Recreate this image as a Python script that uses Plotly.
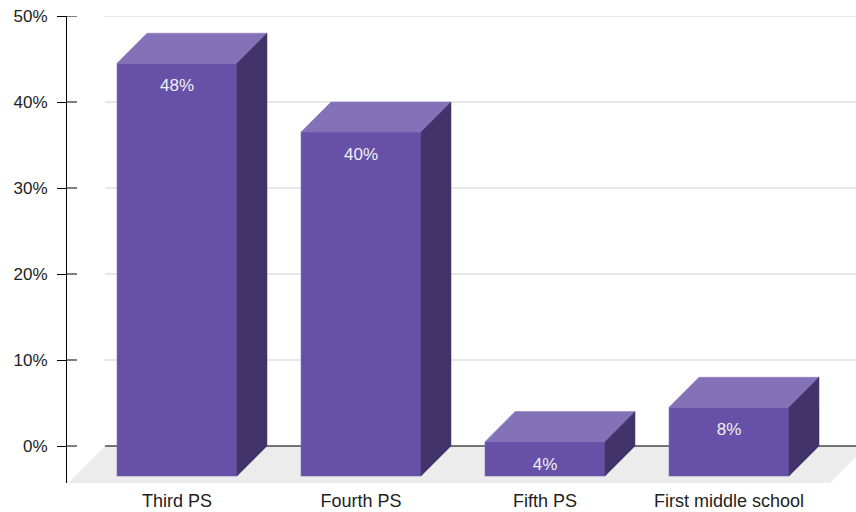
import plotly.graph_objects as go

# ---- data ----
categories = ["Third PS", "Fourth PS", "Fifth PS", "First middle school"]
values = [48, 40, 4, 8]
value_labels = ["48%", "40%", "4%", "8%"]
y_ticks = [0, 10, 20, 30, 40, 50]
y_tick_labels = ["0%", "10%", "20%", "30%", "40%", "50%"]

# ---- style / geometry (data units) ----
FRONT = "#6650a8"
TOP = "#8472b9"
SIDE = "#42346a"
FLOOR = "#ececec"
GRID = "#d2d2d2"
TXT = "#222222"
FONT = "Liberation Sans, Arial, sans-serif"

X_RANGE = [-0.598, 3.690]
Y_RANGE = [-4.30, 50]
HW = 0.326          # half bar width
DX = 0.163          # depth in x
DY = 3.49           # depth in y
FLOOR_DX = 0.201
FLOOR_BACK_LEFT = -0.391
FLOOR_FRONT_RIGHT = 3.549
LABEL_DROP = 2.75   # value label offset below front top

fig = go.Figure()

# floor
fx0 = FLOOR_BACK_LEFT - FLOOR_DX
fig.add_trace(go.Scatter(
    x=[fx0, FLOOR_FRONT_RIGHT, FLOOR_FRONT_RIGHT + FLOOR_DX, FLOOR_BACK_LEFT, fx0],
    y=[Y_RANGE[0], Y_RANGE[0], 0, 0, Y_RANGE[0]],
    fill="toself", fillcolor=FLOOR, mode="lines", line=dict(width=0),
    hoverinfo="skip", showlegend=False))

# zero line (back edge of floor)
fig.add_trace(go.Scatter(
    x=[FLOOR_BACK_LEFT, X_RANGE[1]], y=[0, 0], mode="lines",
    line=dict(color="#4a4a4a", width=1.3), hoverinfo="skip", showlegend=False))

for i, v in enumerate(values):
    c = i
    xl, xr = c - HW, c + HW
    # front
    fig.add_trace(go.Scatter(
        x=[xl, xr, xr, xl, xl], y=[-DY, -DY, v - DY, v - DY, -DY],
        fill="toself", fillcolor=FRONT, mode="lines",
        line=dict(color="#7462b0", width=0.6), hoverinfo="skip", showlegend=False))
    # top
    fig.add_trace(go.Scatter(
        x=[xl, xl + DX, xr + DX, xr, xl], y=[v - DY, v, v, v - DY, v - DY],
        fill="toself", fillcolor=TOP, mode="lines",
        line=dict(color=TOP, width=0.5), hoverinfo="skip", showlegend=False))
    # side
    fig.add_trace(go.Scatter(
        x=[xr, xr + DX, xr + DX, xr, xr], y=[-DY, 0, v, v - DY, -DY],
        fill="toself", fillcolor=SIDE, mode="lines",
        line=dict(color=SIDE, width=0.5), hoverinfo="skip", showlegend=False))

# value labels
fig.add_trace(go.Scatter(
    x=list(range(len(values))), y=[v - DY - LABEL_DROP for v in values],
    mode="text", text=value_labels, textposition="middle center",
    textfont=dict(family=FONT, size=17, color="#f0f0f0"),
    hoverinfo="skip", showlegend=False))

shapes = []
for t in y_ticks:
    if t != 0:
        shapes.append(dict(type="line", xref="x", yref="y", x0=FLOOR_BACK_LEFT, x1=X_RANGE[1],
                           y0=t, y1=t, line=dict(color=GRID, width=1.2), layer="below"))
    # inner part of crossing tick
    shapes.append(dict(type="line", xref="paper", yref="y", xsizemode="pixel", xanchor=0,
                       x0=0, x1=10, y0=t, y1=t, line=dict(color="black", width=1)))

fig.update_layout(
    width=856, height=512,
    margin=dict(l=67, r=0, t=16, b=29),
    paper_bgcolor="white", plot_bgcolor="white",
    shapes=shapes,
    font=dict(family=FONT, color=TXT),
    xaxis=dict(range=X_RANGE, showgrid=False, zeroline=False, showline=False,
               tickvals=list(range(len(categories))), ticktext=categories,
               ticks="", tickfont=dict(size=18, color=TXT), ticklabelstandoff=5,
               fixedrange=True),
    yaxis=dict(range=Y_RANGE, showgrid=False, zeroline=False, showline=True,
               linecolor="black", linewidth=1, ticks="outside", ticklen=9,
               tickcolor="black", tickwidth=1, tickvals=y_ticks, ticktext=y_tick_labels,
               tickfont=dict(size=17, color=TXT), ticklabelstandoff=6, fixedrange=True),
)

fig.write_html("out.html")
